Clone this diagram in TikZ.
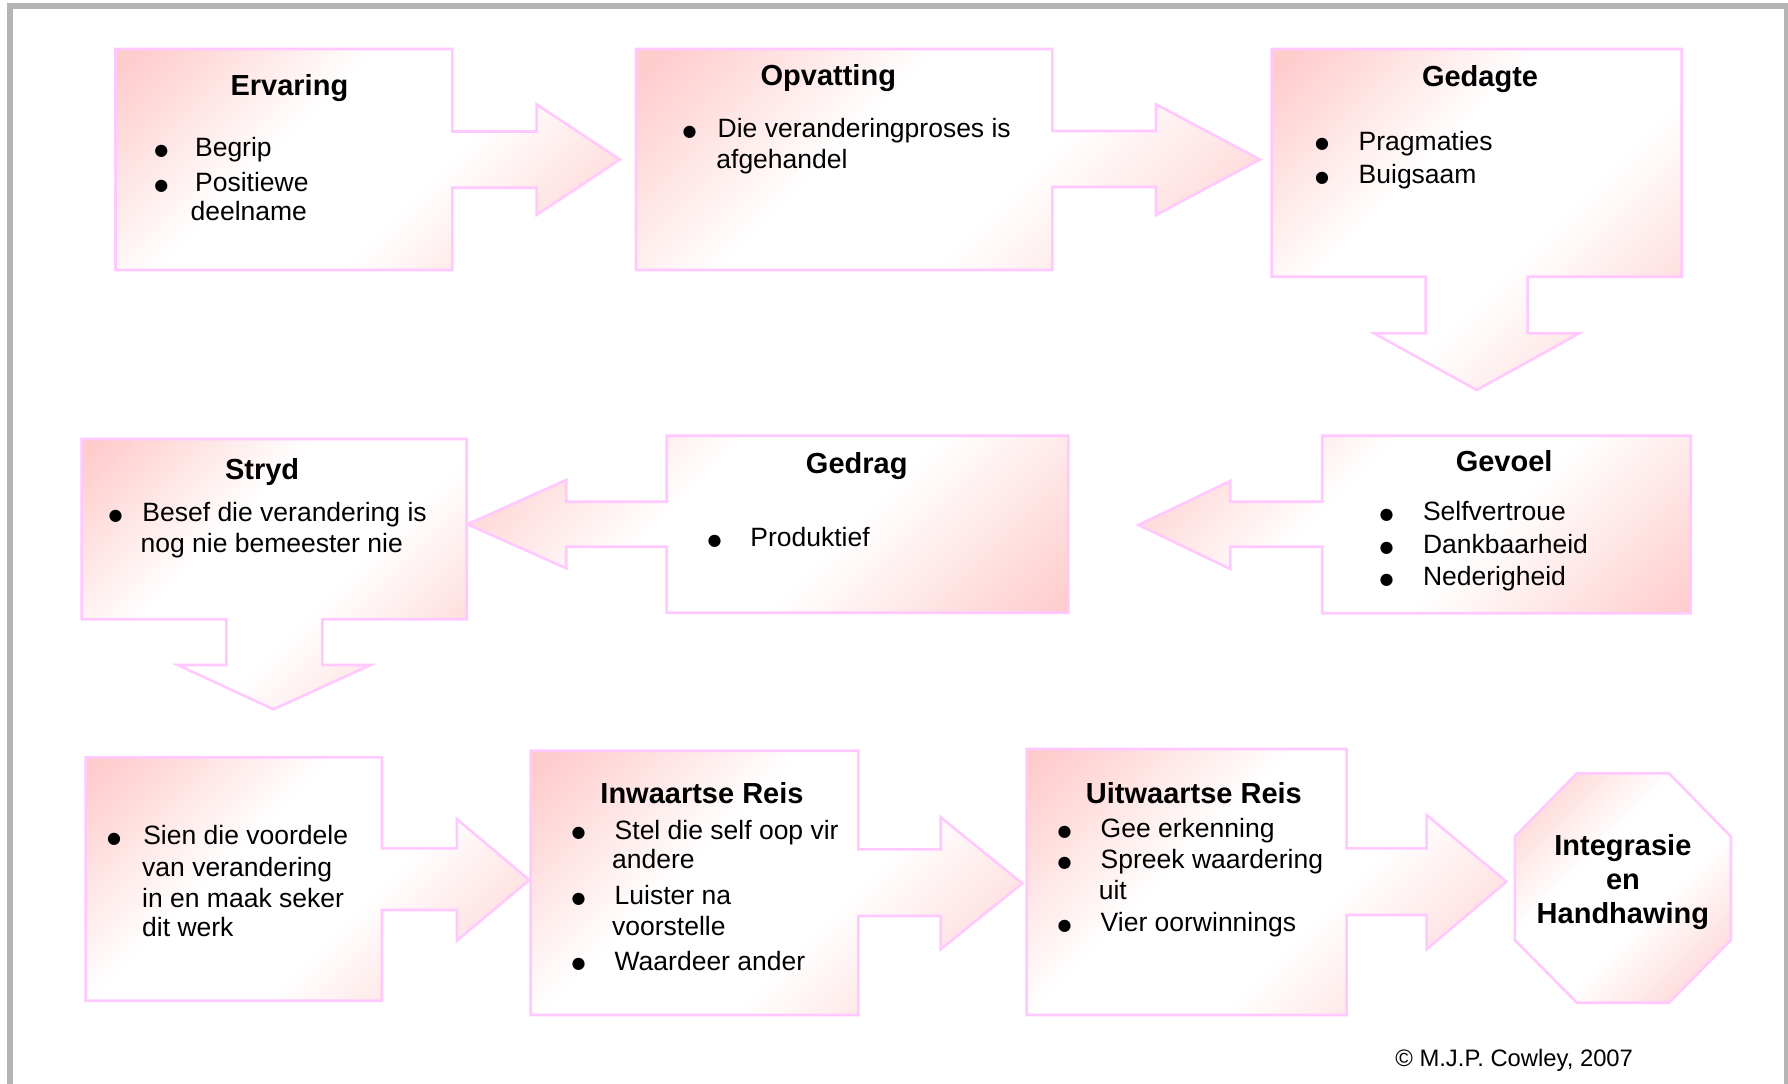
\documentclass[tikz,border=0pt]{standalone}
\usepackage{fontspec}
\setmainfont{Liberation Sans}
\newfontfamily\dotfont{DejaVu Sans}
\definecolor{pk}{RGB}{255,204,204}
\definecolor{bd}{RGB}{255,200,255}
\definecolor{framegray}{RGB}{180,180,180}
\pgfdeclarehorizontalshading{boxgrad}{100bp}{color(0bp)=(pk); color(17bp)=(pk); color(40bp)=(white); color(58bp)=(white); color(85bp)=(pk); color(100bp)=(pk)}

\begin{document}
\begin{tikzpicture}[x=0.5pt,y=-0.5pt,
  stepshape/.style={shading=boxgrad, shading angle=-45, draw=bd, line width=1.3pt},
  ttl/.style={anchor=base, inner sep=0pt, font=\fontsize{14.5}{17}\selectfont\bfseries},
  txt/.style={anchor=base west, inner sep=0pt, font=\fontsize{13.25}{15.5}\selectfont},
  blt/.style={anchor=base west, inner sep=0pt, yshift=0.6pt, font=\dotfont\fontsize{8}{9}\selectfont},
  note/.style={anchor=base west, inner sep=0pt, font=\fontsize{11.9}{14}\selectfont},
]
\useasboundingbox (0,0) rectangle (1788,1083);
\clip (0,0) rectangle (1788,1083);

% outer frame
\draw[framegray, line width=3pt] (10.3,1090) -- (10.3,6.3) -- (1786.7,6.3) -- (1786.7,1090);

% ---- row 1 ----
% Ervaring, arrow to the right
\shadedraw[stepshape] (115.5,49) -- (452.3,49) -- (452.3,131.5) -- (536.6,131.5) -- (536.6,104.3)
  -- (620,159.5) -- (536.6,215) -- (536.6,187.7) -- (452.3,187.7) -- (452.3,270) -- (115.5,270) -- cycle;
% Opvatting, arrow to the right
\shadedraw[stepshape] (636,49) -- (1052.3,49) -- (1052.3,131) -- (1156,131) -- (1156,104.3)
  -- (1260,159.5) -- (1156,215) -- (1156,187) -- (1052.3,187) -- (1052.3,270) -- (636,270) -- cycle;
% Gedagte, arrow downwards
\shadedraw[stepshape] (1271.7,49) -- (1681.7,49) -- (1681.7,276.7) -- (1527.7,276.7) -- (1527.7,333.3)
  -- (1579.3,333.3) -- (1476.7,390) -- (1374,333.3) -- (1425.7,333.3) -- (1425.7,276.7) -- (1271.7,276.7) -- cycle;

% ---- row 2 ----
% Gevoel, arrow to the left
\shadedraw[stepshape] (1322.2,435.7) -- (1690.7,435.7) -- (1690.7,613.3) -- (1322.2,613.3) -- (1322.2,546.7)
  -- (1230.3,546.7) -- (1230.3,569) -- (1138.4,525) -- (1230.3,481) -- (1230.3,501.7) -- (1322.2,501.7) -- cycle;
% Gedrag, arrow to the left
\shadedraw[stepshape] (666.7,435.7) -- (1068.3,435.7) -- (1068.3,612.7) -- (666.7,612.7) -- (666.7,546.7)
  -- (566.2,546.7) -- (566.2,568.3) -- (467.4,524.3) -- (566.2,480) -- (566.2,501.7) -- (666.7,501.7) -- cycle;
% Stryd, arrow downwards
\shadedraw[stepshape] (81.7,439) -- (466.7,439) -- (466.7,619.3) -- (322.4,619.3) -- (322.4,665)
  -- (370.6,665) -- (273.5,709.3) -- (177.8,665) -- (226.3,665) -- (226.3,619.3) -- (81.7,619.3) -- cycle;

% ---- row 3 ----
\shadedraw[stepshape] (85.7,757.3) -- (382,757.3) -- (382,848.3) -- (456.8,848.3) -- (456.8,819)
  -- (529.3,880) -- (456.8,940.7) -- (456.8,910) -- (382,910) -- (382,1000.7) -- (85.7,1000.7) -- cycle;
\shadedraw[stepshape] (530.7,750.7) -- (858.3,750.7) -- (858.3,849.3) -- (940.7,849.3) -- (940.7,817.3)
  -- (1022.3,883.3) -- (940.7,949.3) -- (940.7,916) -- (858.3,916) -- (858.3,1015) -- (530.7,1015) -- cycle;
\shadedraw[stepshape] (1026.7,749) -- (1346.6,749) -- (1346.6,848.3) -- (1426.6,848.3) -- (1426.6,815)
  -- (1506.5,881.7) -- (1426.6,949.3) -- (1426.6,915) -- (1346.6,915) -- (1346.6,1015) -- (1026.7,1015) -- cycle;
% final octagon
\shadedraw[stepshape] (1576.8,773.3) -- (1669,773.3) -- (1731,836.7) -- (1731,940) -- (1669,1002.7)
  -- (1576.8,1002.7) -- (1514.8,940) -- (1514.8,836.7) -- cycle;

% ---- texts ----
\node[ttl] (erv) at (289.4,95) {Ervaring};
\node[blt] (erv-b1) at (154,156.7) {●};
\node[txt] (erv-l1) at (194.7,156.7) {Begrip};
\node[blt] (erv-b2) at (154,191.3) {●};
\node[txt] (erv-l2) at (194.7,191.3) {Positiewe};
\node[txt] (erv-l3) at (190.2,220) {deelname};

\node[ttl] (opv) at (828.3,85.7) {Opvatting};
\node[blt] (opv-b1) at (682.2,137.3) {●};
\node[txt] (opv-l1) at (717.3,137.3) {Die veranderingproses is};
\node[txt] (opv-l2) at (716,168.3) {afgehandel};

\node[ttl] (ged) at (1480,86.7) {Gedagte};
\node[blt] (ged-b1) at (1314.6,150) {●};
\node[txt] (ged-l1) at (1358.3,150) {Pragmaties};
\node[blt] (ged-b2) at (1314.6,183.3) {●};
\node[txt] (ged-l2) at (1358.3,183.3) {Buigsaam};

\node[ttl] (gev) at (1504.1,471.7) {Gevoel};
\node[blt] (gev-b1) at (1379.3,520.7) {●};
\node[txt] (gev-l1) at (1422.6,520.7) {Selfvertroue};
\node[blt] (gev-b2) at (1379.3,553.3) {●};
\node[txt] (gev-l2) at (1422.6,553.3) {Dankbaarheid};
\node[blt] (gev-b3) at (1379.3,585.7) {●};
\node[txt] (gev-l3) at (1422.6,585.7) {Nederigheid};

\node[ttl] (gdr) at (856.7,473.3) {Gedrag};
\node[blt] (gdr-b1) at (707.2,546.7) {●};
\node[txt] (gdr-l1) at (750,546.7) {Produktief};

\node[ttl] (str) at (262.1,479.3) {Stryd};
\node[blt] (str-b1) at (108.1,521.7) {●};
\node[txt] (str-l1) at (142,521.7) {Besef die verandering is};
\node[txt] (str-l2) at (140.2,552.7) {nog nie bemeester nie};

\node[blt] (sie-b1) at (106.8,844.3) {●};
\node[txt] (sie-l1) at (142.9,844.3) {Sien die voordele};
\node[txt] (sie-l2) at (141.8,876) {van verandering};
\node[txt] (sie-l3) at (141.8,907.7) {in en maak seker};
\node[txt] (sie-l4) at (141.8,936.7) {dit werk};

\node[ttl] (inw) at (702,803.3) {Inwaartse Reis};
\node[blt] (inw-b1) at (571.2,839) {●};
\node[txt] (inw-l1) at (614.3,839) {Stel die self oop vir};
\node[txt] (inw-l2) at (611.7,868.3) {andere};
\node[blt] (inw-b2) at (571.2,904.3) {●};
\node[txt] (inw-l3) at (614.3,904.3) {Luister na};
\node[txt] (inw-l4) at (611.7,935) {voorstelle};
\node[blt] (inw-b3) at (571.2,970) {●};
\node[txt] (inw-l5) at (614.3,970) {Waardeer ander};

\node[ttl] (uit) at (1193.9,803.3) {Uitwaartse Reis};
\node[blt] (uit-b1) at (1057.1,837.3) {●};
\node[txt] (uit-l1) at (1100.3,837.3) {Gee erkenning};
\node[blt] (uit-b2) at (1057.1,868.3) {●};
\node[txt] (uit-l2) at (1100.3,868.3) {Spreek waardering};
\node[txt] (uit-l3) at (1098.4,899.3) {uit};
\node[blt] (uit-b3) at (1057.1,931.7) {●};
\node[txt] (uit-l4) at (1100.3,931.7) {Vier oorwinnings};

\node[ttl] (int1) at (1622.9,855) {Integrasie};
\node[ttl] (int2) at (1622.9,889) {en};
\node[ttl] (int3) at (1622.9,923.3) {Handhawing};

\node[note] (copy) at (1395,1066.7) {© M.J.P. Cowley, 2007};
\end{tikzpicture}
\end{document}
